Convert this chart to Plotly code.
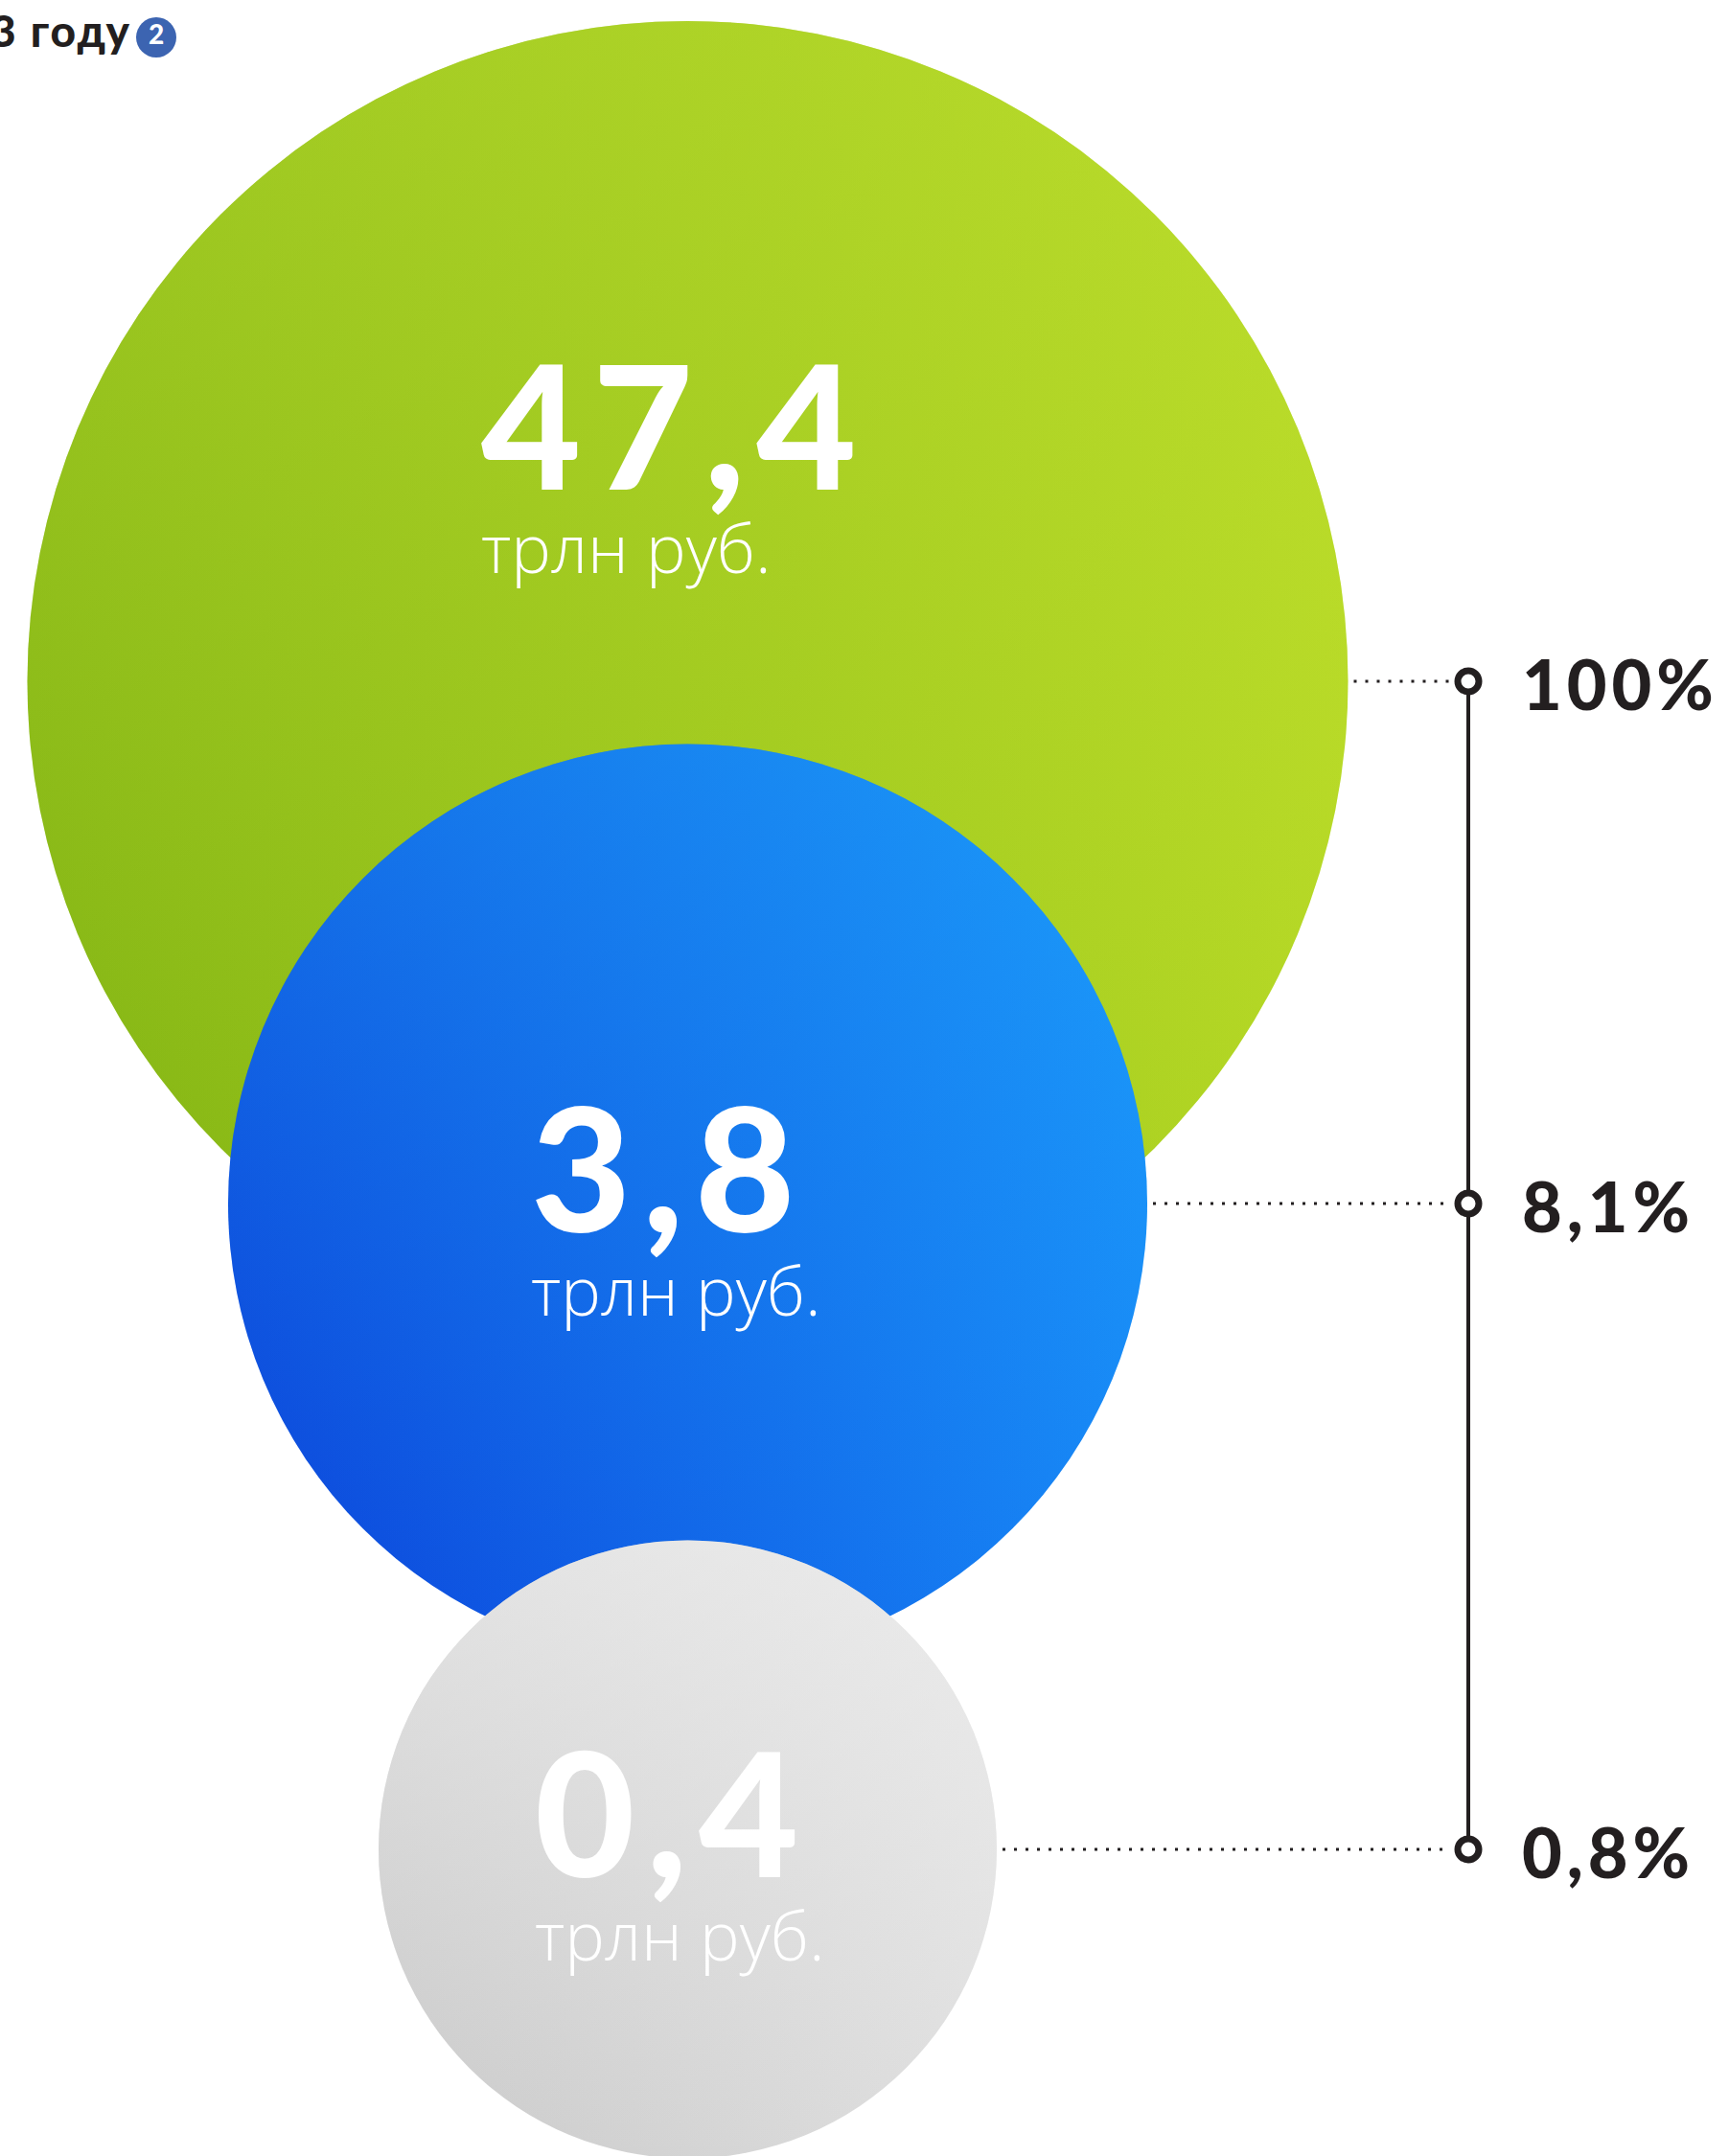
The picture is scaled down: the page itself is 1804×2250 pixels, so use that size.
import plotly.graph_objects as go

# values
values = [47.4, 3.8, 0.4]
value_labels = ['47,4', '3,8', '0,4']
shares = ['100%', '8,1%', '0,8%']
unit = 'трлн руб.'
title_tail = '2023 году'
note = '2'

# page layout (pixels) and colours
W, H = 1804, 2250
cx = 717.5
cy = [711, 1256, 1930]
radius = [689, 479.5, 322.5]
base = [('#7fb212', '#b4d724'), ('#0b40d9', '#1786f6'), ('#c9c9c9', '#dfdfdf')]
glow = [(200, 230, 55, 0.42), (35, 190, 255, 0.38), (244, 244, 244, 0.6)]
label_pos = [(500, 331), (552, 1106), (556, 1779)]
link_x = 1532
dark = '#231f20'

fig = go.Figure()

# circles: horizontal base gradient plus a vertical glow on top
for i, v in enumerate(values):
    lo, hi = base[i]
    r, g, b, a = glow[i]
    fig.add_trace(go.Scatter(x=[cx], y=[cy[i]], mode='markers', hoverinfo='skip',
                             marker=dict(size=2 * radius[i], color=lo, line=dict(width=0),
                                         gradient=dict(type='horizontal', color=hi))))
    fig.add_trace(go.Scatter(x=[cx], y=[cy[i]], mode='markers', hoverinfo='skip',
                             marker=dict(size=2 * radius[i], color=f'rgba({r},{g},{b},{a})', line=dict(width=0),
                                         gradient=dict(type='vertical', color=f'rgba({r},{g},{b},0)'))))

# dotted leaders from each circle to the scale
for i in range(len(values)):
    fig.add_trace(go.Scatter(x=[cx + radius[i] + 6, link_x - 20], y=[cy[i], cy[i]], mode='lines', hoverinfo='skip',
                             line=dict(color=dark, width=3, dash='3px,9px')))

# vertical scale with ring markers
fig.add_trace(go.Scatter(x=[link_x] * len(values), y=cy, mode='lines+markers', hoverinfo='skip',
                         line=dict(color=dark, width=4),
                         marker=dict(symbol='circle', size=22, color='white', line=dict(color=dark, width=7))))

# number + unit inside each circle, share label to the right
for i, lab in enumerate(value_labels):
    txt = (f"<span style='font-family:Lato;font-weight:900;font-size:180px;letter-spacing:12px'>{lab}</span>"
           f"<br><span style='font-size:70px'>{unit}</span>")
    fig.add_annotation(x=label_pos[i][0], y=label_pos[i][1], text=txt, showarrow=False,
                       xanchor='left', yanchor='top', align='left',
                       font=dict(family='Open Sans', size=67, color='white', weight=300))
    fig.add_annotation(x=1586, y=cy[i] + 2, text=f"<span style='letter-spacing:5px'>{shares[i]}</span>",
                       showarrow=False, xanchor='left', yanchor='middle',
                       font=dict(family='Lato', size=72, color=dark, weight=900))

# clipped heading at the top-left corner with a footnote badge
fig.add_annotation(x=139, y=31, text=f"<span style='letter-spacing:2px'>{title_tail}</span>", showarrow=False,
                   xanchor='right', yanchor='middle',
                   font=dict(family='Lato', size=46, color=dark, weight=900))
fig.add_trace(go.Scatter(x=[163], y=[39], mode='markers+text', text=[note], textposition='middle center',
                         hoverinfo='skip', marker=dict(size=42, color='#3c64b1', line=dict(width=0)),
                         textfont=dict(family='Lato', size=28, color='white', weight=900)))

fig.update_layout(width=W, height=H, margin=dict(l=0, r=0, t=0, b=0), showlegend=False,
                  paper_bgcolor='white', plot_bgcolor='white',
                  xaxis=dict(range=[0, W], visible=False, fixedrange=True),
                  yaxis=dict(range=[H, 0], visible=False, fixedrange=True))
fig.write_html('out.html', config={'displayModeBar': False},
               post_script="document.body.style.margin='0';")
